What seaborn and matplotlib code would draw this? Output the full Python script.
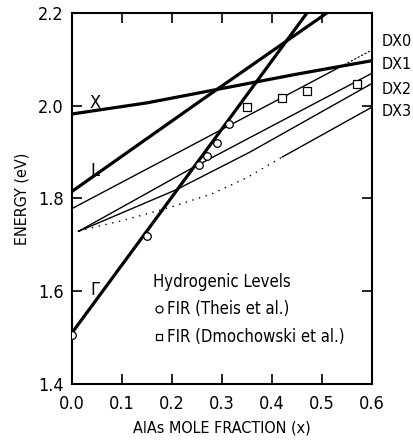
import numpy as np
import pandas as pd
import seaborn as sns
import matplotlib.pyplot as plt

# band edges (thick lines)
gamma_x = [0.0, 0.15, 0.30, 0.47]
gamma_y = [1.51, 1.73, 1.95, 2.20]
l_x = [0.0, 0.25, 0.51]
l_y = [1.815, 2.005, 2.20]
x_x = [0.0, 0.15, 0.30, 0.45, 0.60]
x_y = [1.982, 2.006, 2.037, 2.068, 2.097]

# DX levels (thin lines)
dx0_x = [0.0, 0.53]
dx0_y = [1.778, 2.080]
dx0_tail_x = [0.53, 0.60]
dx0_tail_y = [2.080, 2.120]
dx1_x = [0.013, 0.236, 0.60]
dx1_y = [1.729, 1.863, 2.070]
dx2_x = [0.013, 0.209, 0.356, 0.60]
dx2_y = [1.729, 1.819, 1.900, 2.048]
dx3_x = [0.42, 0.60]
dx3_y = [1.889, 1.997]
dotted_x = [0.013, 0.10, 0.20, 0.28, 0.35, 0.42]
dotted_y = [1.730, 1.752, 1.782, 1.810, 1.845, 1.889]

# FIR data
theis_x = [0.0, 0.15, 0.255, 0.27, 0.29, 0.315]
theis_y = [1.505, 1.72, 1.872, 1.892, 1.92, 1.96]
dmoch_x = [0.35, 0.42, 0.47, 0.57]
dmoch_y = [1.997, 2.017, 2.031, 2.047]

dx_labels = ["DX0", "DX1", "DX2", "DX3"]
dx_label_y = [2.138, 2.088, 2.034, 1.987]

sns.set_theme(style="ticks")
plt.rcParams['font.family'] = ['DejaVu Sans']
plt.rcParams['font.stretch'] = 'condensed'
plt.rcParams['text.color'] = 'black'
plt.rcParams['axes.labelcolor'] = 'black'
plt.rcParams['xtick.color'] = 'black'
plt.rcParams['ytick.color'] = 'black'

fig = plt.figure(figsize=(4.13, 4.43), dpi=100)
ax = fig.add_axes([0.174, 0.133, 0.727, 0.838])

for xs, ys in [(gamma_x, gamma_y), (l_x, l_y), (x_x, x_y)]:
    sns.lineplot(x=xs, y=ys, ax=ax, color='black', lw=2.3, sort=False)
for xs, ys in [(dx0_x, dx0_y), (dx1_x, dx1_y), (dx2_x, dx2_y), (dx3_x, dx3_y)]:
    sns.lineplot(x=xs, y=ys, ax=ax, color='black', lw=1.0, sort=False)
sns.lineplot(x=dx0_tail_x, y=dx0_tail_y, ax=ax, color='black', lw=0.8, linestyle=(0, (2, 1.5)))
sns.lineplot(x=dotted_x, y=dotted_y, ax=ax, color='black', lw=1.0, linestyle=(0, (1, 4)))

sns.scatterplot(x=theis_x, y=theis_y, ax=ax, marker='o', s=30,
                facecolor='white', edgecolor='black', linewidth=0.9, zorder=5)
sns.scatterplot(x=dmoch_x, y=dmoch_y, ax=ax, marker='s', s=26,
                facecolor='white', edgecolor='black', linewidth=0.9, zorder=5)

ax.set_xlim(0, 0.6)
ax.set_ylim(1.4, 2.2)
ax.set_xticks([0.0, 0.1, 0.2, 0.3, 0.4, 0.5, 0.6])
ax.set_yticks([1.4, 1.6, 1.8, 2.0, 2.2])
ax.tick_params(direction='in', length=7, width=1.2, top=True, right=True, labelsize=13)
ax.tick_params(axis='x', pad=8)
ax.tick_params(axis='y', pad=6)
for s in ax.spines.values():
    s.set_linewidth(1.5)
    s.set_color('black')

ax.set_xlabel('AlAs MOLE FRACTION (x)', fontsize=11.5, labelpad=5)
ax.set_ylabel('ENERGY (eV)', fontsize=11.5, labelpad=6)

ax.text(0.036, 2.006, 'X', fontsize=13, va='center')
ax.text(0.036, 1.86, 'L', fontsize=13, va='center')
ax.text(0.036, 1.603, 'Γ', fontsize=13, va='center')

for lab, yy in zip(dx_labels, dx_label_y):
    ax.text(0.619, yy, lab, fontsize=11.5, va='center', clip_on=False)

ax.text(0.162, 1.62, 'Hydrogenic Levels', fontsize=12, va='center')
ax.plot([0.175], [1.561], marker='o', ms=5, mfc='white', mec='black', mew=0.9, ls='none')
ax.text(0.19, 1.561, 'FIR (Theis et al.)', fontsize=12, va='center')
ax.plot([0.175], [1.502], marker='s', ms=4.5, mfc='white', mec='black', mew=0.9, ls='none')
ax.text(0.19, 1.502, 'FIR (Dmochowski et al.)', fontsize=12, va='center')

fig.savefig('out.png', dpi=100)
